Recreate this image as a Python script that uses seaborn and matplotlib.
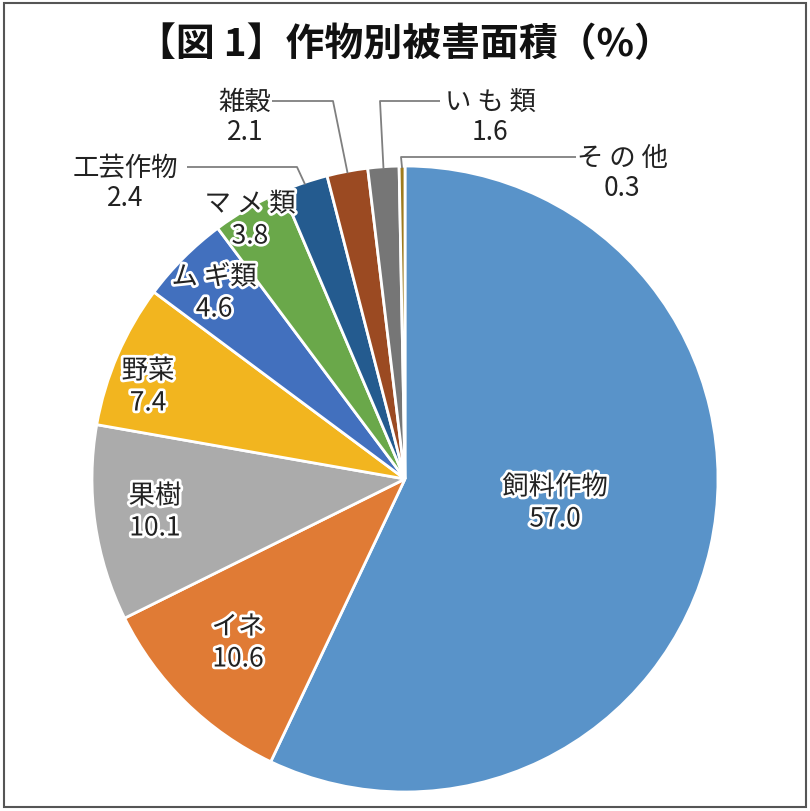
import numpy as np
import matplotlib
matplotlib.use("Agg")
import matplotlib.pyplot as plt
import matplotlib.patheffects as pe
import seaborn as sns

categories = ["飼料作物", "イネ", "果樹", "野菜", "ムギ類", "マメ類", "工芸作物", "雑穀", "いも類", "その他"]
values = [57.0, 10.6, 10.1, 7.4, 4.6, 3.8, 2.4, 2.1, 1.6, 0.3]
value_labels = ["57.0", "10.6", "10.1", "7.4", "4.6", "3.8", "2.4", "2.1", "1.6", "0.3"]
display_names = ["飼料作物", "イネ", "果樹", "野菜", "ム ギ類", "マ メ 類", "工芸作物", "雑穀", "い も 類", "そ の 他"]
colors = ["#5993C9", "#E07B35", "#ABABAB", "#F2B51F", "#4270BE", "#6AA84A",
          "#245B8F", "#9B4A22", "#767676", "#9E7B1E"]
title = "【図 1】作物別被害面積（%）"

sns.set_theme(style="white")
plt.rcParams["font.family"] = ["Noto Sans CJK JP", "DejaVu Sans"]

W, H = 810, 812
fig = plt.figure(figsize=(W / 100, H / 100), dpi=100)
ax = fig.add_axes([0, 0, 1, 1])

cx, cy, R = 405, H - 480, 313
wedges, _ = ax.pie(values, colors=colors, startangle=90, counterclock=False,
                   center=(cx, cy), radius=R, frame=True,
                   wedgeprops=dict(edgecolor="white", linewidth=2))
ax.set_xlim(0, W)
ax.set_ylim(0, H)
ax.set_aspect("equal")
ax.axis("off")

# frame
fig.patches.append(plt.Rectangle((4 / W, 4 / H), 802 / W, 804 / H, transform=fig.transFigure,
                                 fill=False, edgecolor="#555555", linewidth=1.5))

ax.text(W / 2, H - 45, title, ha="center", va="center", fontsize=28, fontweight="bold", color="#111111")

stroke = [pe.withStroke(linewidth=4, foreground="white")]
fs = 19

# inside labels (pixel positions of label centre, top line)
inside_pos = {
    "飼料作物": (555, 488),
    "イネ": (238, 628),
    "果樹": (155, 497),
    "野菜": (148, 372),
    "ムギ類": (214, 278),
    "マメ類": (250, 205),
}
for name, (x, y) in inside_pos.items():
    i = categories.index(name)
    ax.text(x, H - y, display_names[i], ha="center", va="center", fontsize=fs, color="#222222",
            path_effects=stroke)
    ax.text(x, H - y - 32, value_labels[i], ha="center", va="center", fontsize=fs, color="#222222",
            path_effects=stroke)

# outside labels with leader lines
outside = {
    # name: (label x, label y, line start x, kink x)
    "工芸作物": (125, 168, 187, 297),
    "雑穀": (245, 102, 272, 333),
    "いも類": (490, 102, 440, 380),
    "その他": (622, 158, 576, 401),
}
total = sum(values)
cum = np.cumsum([0] + values)
for name, (lx, ly, sx, kx) in outside.items():
    i = categories.index(name)
    mid = (cum[i] + values[i] / 2) / total * 360
    ang = np.deg2rad(90 - mid)
    axp = cx + (R - 2) * np.cos(ang)
    ayp = cy + (R - 2) * np.sin(ang)
    ax.text(lx, H - ly, display_names[i], ha="center", va="center", fontsize=fs, color="#222222")
    ax.text(lx, H - ly - 31, value_labels[i], ha="center", va="center", fontsize=fs, color="#222222")
    ax.plot([sx, kx, axp], [H - ly, H - ly, ayp], color="#7F7F7F", linewidth=1.3, solid_capstyle="butt")

fig.savefig("out.png", dpi=100, facecolor="white")
